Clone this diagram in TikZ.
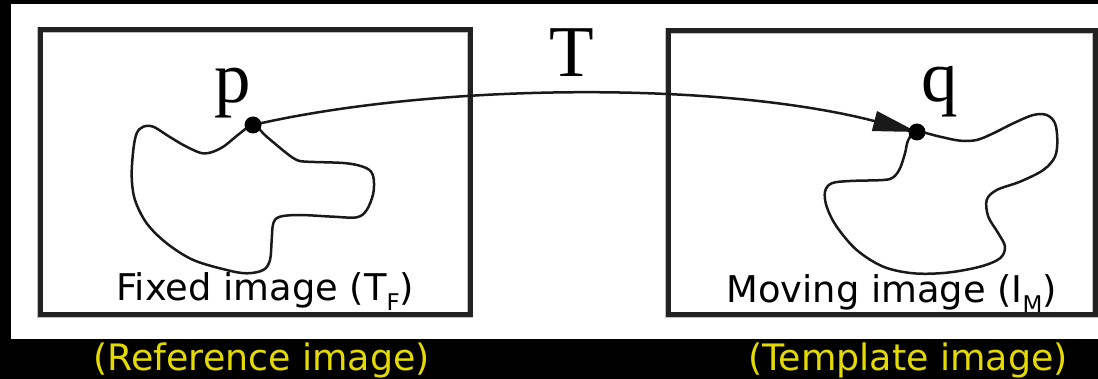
\documentclass[tikz,border=0pt]{standalone}
\usepackage{fontspec}
\usetikzlibrary{arrows.meta}
\newfontfamily\labelfont{DejaVu Sans}
\newfontfamily\pointfont{Liberation Serif}
\definecolor{capyellow}{RGB}{228,218,0}
\definecolor{framegray}{RGB}{34,34,34}
\begin{document}
\begin{tikzpicture}[x=0.5pt,y=-0.5pt,
  frame/.style={draw=framegray,line width=2.5pt},
  framehalo/.style={draw=black!25,line width=3.4pt},
  outline/.style={draw=black!90,line width=1.25pt,line join=round},
  conn/.style={draw=black!90,line width=1.25pt,-{Triangle[length=22pt,width=10pt]}},
  pointdot/.style={circle,fill=black,inner sep=0pt,minimum size=8.5pt},
  letter/.style={inner sep=0pt,anchor=base,font=\pointfont\fontsize{36.5}{40}\selectfont},
  boxlabel/.style={inner sep=0pt,anchor=base west,font=\labelfont\fontsize{18.4}{22}\selectfont},
  caption/.style={inner sep=0pt,anchor=base west,text=capyellow,font=\labelfont\fontsize{18.2}{22}\selectfont}]
\useasboundingbox (0,0) rectangle (1098,379);
% page background and white panel
\fill[black] (0,0) rectangle (1098,379);
\fill[white] (11,4) rectangle (1098,339);

% the two image frames
\draw[framehalo] (40,30) rectangle (470,315);
\draw[frame] (40,30) rectangle (470,315);
\draw[framehalo] (668,31) rectangle (1095,315);
\draw[frame] (668,31) rectangle (1095,315);

% contour in the fixed image
\draw[outline] plot[smooth cycle,tension=0.55] coordinates {
  (253.3,125) (240,133.3) (223.3,146.7) (210,152.7) (200,152.7) (183.3,145)
  (166.7,135) (153.3,126.7) (143.3,126.7) (136.7,133.3) (133.3,150)
  (131.7,176.7) (135,200) (146.7,223.3) (166.7,243.3) (193.3,260)
  (226.7,270) (246.7,273.3) (263.3,270) (270,260) (271.7,240) (273.3,223.3)
  (280,216.7) (300,215) (333.3,216.7) (356.7,217.3) (366.7,210)
  (373.3,193.3) (373.3,176.7) (366.7,168.3) (346.7,163.3) (306.7,161.7)
  (296.7,160) (286.7,153.3) (266.7,136.7)};

% contour in the moving image
\draw[outline] plot[smooth cycle,tension=0.55] coordinates {
  (916.7,131.7) (940,136.7) (960,140.7) (976.7,140) (993.3,133.3)
  (1013.3,123.3) (1033.3,115) (1046.7,115) (1055,123.3) (1057.3,140)
  (1055,156.7) (1043.3,170) (1020,181.7) (996.7,190) (986.7,200)
  (988.3,216.7) (998.3,233.3) (1005,246.7) (1000,258.3) (980,266.7)
  (946.7,272.7) (913.3,273.3) (883.3,266.7) (856.7,250) (836.7,226.7)
  (826.7,206.7) (825,191.7) (831.7,183.3) (850,181) (883.3,180)
  (893.3,177.3) (900,168.3) (905,153.3) (908.3,140)};

% corresponding points and the transform
\coordinate (pc) at (253,125);
\coordinate (qc) at (917,132);
\draw[conn] (pc) .. controls (430,84) and (715,80) .. (qc);
\node[pointdot] (pdot) at (pc) {};
\node[pointdot] (qdot) at (qc) {};

\node[letter] (plabel) at (232.5,103) {p};
\node[letter] (qlabel) at (940,102) {q};
\node[letter] (tlabel) at (572,77) {T};

% frame labels
\node[boxlabel] (fixedlabel) at (116,301)
  {Fixed image (T\raisebox{-5pt}{\fontsize{11.5}{13}\selectfont F})};
\node[boxlabel] (movinglabel) at (726,303)
  {Moving image (I\raisebox{-5pt}{\fontsize{11.5}{13}\selectfont M})};

% captions under the frames
\node[caption] (refcaption) at (93,371) {(Reference image)};
\node[caption] (tmplcaption) at (748,371) {(Template image)};
\end{tikzpicture}
\end{document}
